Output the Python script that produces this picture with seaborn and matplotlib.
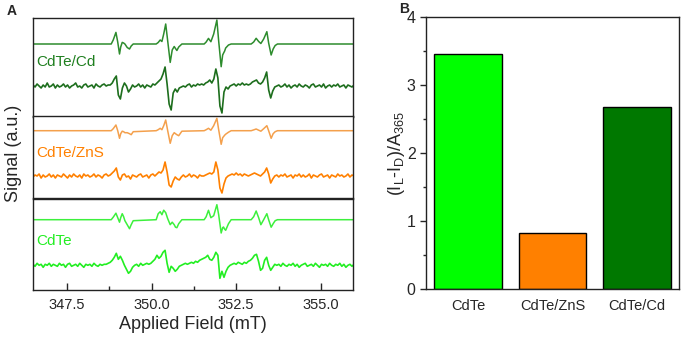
import numpy as np
import pandas as pd
import matplotlib
matplotlib.use("Agg")
import matplotlib.pyplot as plt
import seaborn as sns
from matplotlib.ticker import MultipleLocator

# ---------------- data ----------------
# Panel A: EPR spectra (field in mT, signal in arbitrary units)
sim_field = [346.5,
             348.81, 348.869, 348.949, 349.002, 349.055, 349.09, 349.135, 349.176, 349.214, 349.282, 349.35, 349.40, 349.459,
             350.138, 350.197, 350.256, 350.307, 350.36, 350.419, 350.478, 350.552, 350.611, 350.67, 350.708, 350.749, 350.803, 350.897,
             351.555, 351.614, 351.682, 351.753, 351.836, 351.93, 351.983, 352.057, 352.101, 352.125, 352.16, 352.19, 352.273, 352.352,
             352.943, 353.017, 353.09, 353.164, 353.229, 353.312, 353.406, 353.459, 353.533, 353.592, 353.651, 353.719,
             355.95]
cd_sim = [0,
          0, 4, 11.6, 2, -10, -3, 1.6, 1, 0, -3.5, -5, -2, 0,
          0, 1.5, 4, 2.5, 10, 20, 3, -18.4, -6, -2.5, -4.5, -6.5, -3, 0,
          0, 2, 5.6, 2.3, 10, 24, 3, -22.7, -11, -9.3, -7, -4, -1, 0,
          0, 2, 5.7, 2.5, 0.5, 5, 12.3, 1, -11, -5, -1.5, 0,
          0]
zns_sim = [0,
           0, 2, 5.7, 0, -7.6, -3, -0.5, -1, -2, -2, -3, -4, -1,
           0, 1, 2.4, 1, 5, 10.7, 0, -12.6, -5, -2, -3, -4, -5, -0.5,
           0, 1, 2.4, 0.5, 5, 12.4, 1, -13.6, -7, -6, -4.5, -3.5, -1.5, 0,
           0, 0.8, 1.7, 0.5, -0.5, 2, 5, 0, -7.6, -3, -1, 0,
           0]
cdte_sim = [0,
            0, 2.5, 6.5, 2, -2.5, 2, 6, 3, -1, -5, -9, -5, -1,
            0, 6, 8, 5, 9.5, 7, 1, -5, -2.5, -5, -7.5, -8, -4, 0,
            0, 3, 9.4, 2, 4, 15, 5, -13.3, -8, -7.3, -9.5, -10.6, -4, 0,
            0, 3, 8.7, 2, -5, 0, 6, 0, -7.5, -4, -1, 0,
            0]

# measured spectra, sampled on an even field grid 346.50 ... 355.98 mT
field_start, field_stop = 346.50, 355.98
cd_raw = [1, -1, 2, 0, -2, 1, -1, 3, -1, 0, 2, -2, 1, -1, 0, 2, -1, 1, -2, 0,
          1, 3, -1, 0, -2, 1, 2, -1, 0, 1, -2, 2, 0, -1, 1, 2, 0, 1,
          1, 3, 7, 10, -9, -13, -2, 3, 0, -6, -3, 1, -1,
          0, 2, -1, 1, -2, 1, 0, -1, 2, 1,
          3, 5, 7, 12, 19, 2, -18, -24, -7, -3, -6, -2, -1,
          0, -1, 1, 2, -1, 1, 0, 2, 1, 2,
          1, 3, 4, 6, 3, 7, 17, 8, -20, -27, -6, -1, -3, 0,
          1, 2, 0, 2, 1, 3, 1, 2, 1,
          2, 4, 5, 6, 3, 2, 4, 8, 14, -4, -12, -5, -1, 0,
          1, -1, 0, 2, -1, 1, -2, 0, 1, -1, 2, 0, -1, 1, 0, -2, 1, 2, -1, 0,
          1, -1, 2, -2, 0, 1, -1, 1, 0, 2, -1, 0, 1, -2, 1, 0, -1, 1]
zns_raw = [-1, 1, 0, 2, -2, 1, -1, 0, 2, -1, 1, -2, 1, 0, -1, 2, 0, -2, 1, -1,
           2, 0, -1, 1, -2, 2, 0, 1, -1, 0, 2, -1, 1, 0, -2, 1, 2, 0,
           1, 3, 5, 8, -1, -4, 1, 2, -1, 0, -3, 1, 0,
           -1, 1, 2, -1, 0, 1, -2, 1, 2, 0,
           2, 4, 3, 6, 14, 4, -9, -11, -5, -1, -3, -4, -1,
           1, -1, 0, 2, -1, 1, 0, -2, 1, 0,
           0, 1, 2, 3, 2, 4, 14, 6, -12, -17, -8, -2, 0, 1,
           2, 1, 3, 1, 2, 0, 2, 1, 0,
           1, 2, 3, 2, 1, 0, 2, 4, 8, 2, -7, -3, 0, 1,
           -1, 1, 0, 2, -1, 0, 1, -2, 1, 0, 2, -1, 1, -1, 0, 2, -2, 1, 0, -1,
           1, 2, -1, 0, 1, -2, 1, 0, -1, 2, 0, 1, -1, 0, 2, -1, 1, 0]
cdte_raw = [1, -1, 2, 0, 1, -2, 1, 0, 2, -1, 1, 0, -1, 2, 0, 1, -2, 1, 2, -1,
            0, 1, -1, 2, 0, -2, 1, 0, 1, -1, 2, 0, -1, 1, 0, 1,
            1, 2, 3, 5, 8, 12, 6, 9, 5, 0, -4, -8, -6, -2, 0,
            1, -1, 2, 0, 1, 2, 1,
            2, 4, 6, 10, 7, 9, 13, 15, 2, -7, -1, -3, -6, -4, -1, 0,
            1, 2, 1,
            2, 3, 2, 4, 3, 5, 6, 7, 8, 10, 6, 5, 8, 13, 10, -13, -6, -12, -6, -2, 0,
            1, 2, 1, 3, 2,
            1, 3, 2, 4, 5, 7, 10, 11, 4, -5, -3, 5, 8, 0, -5, -2, 1, 0,
            1, -1, 2, 0, -1, 1, 0, 2, -1, 1, -2, 0, 1, 2, -1, 0, 1, -1, 2, 0,
            -2, 1, 0, 1, -1, 2, 0, -1, 1, 0, 2, -1, 1, -2, 0, 1, -1, 1]

sample_labels = ["CdTe/Cd", "CdTe/ZnS", "CdTe"]
field_ticks = [347.5, 350.0, 352.5, 355.0]

# Panel B
samples = ["CdTe", "CdTe/ZnS", "CdTe/Cd"]
ratio_values = [3.46, 0.82, 2.67]

# ---------------- style ----------------
sns.set_style("ticks")
plt.rcParams["font.family"] = ["Liberation Sans", "DejaVu Sans"]
plt.rcParams["mathtext.fontset"] = "custom"
plt.rcParams["mathtext.rm"] = "Liberation Sans"
plt.rcParams["mathtext.it"] = "Liberation Sans:italic"

W, H = 686, 342
fig = plt.figure(figsize=(W / 100, H / 100), dpi=100)

def fx(px):
    return px / W

def fy(py):
    return 1 - py / H

# ---------------- panel A ----------------
sub_specs = [
    # top px, bottom px, sim offset, raw offset, label y, sim colour, raw colour, label colour
    (17.5, 116.5, 72.5, 30.5, 54.5, "#2d8c2d", "#1d6e1d", "#1f7f1f"),
    (116.5, 198.5, 67.8, 22.5, 45.5, "#f4a04c", "#ff8000", "#ff8000"),
    (198.5, 289.5, 69.8, 24.2, 48.5, "#3cf03c", "#22ee22", "#22ee22"),
]
sims = [cd_sim, zns_sim, cdte_sim]
raws = [cd_raw, zns_raw, cdte_raw]

for k, (top, bot, soff, roff, ly, csim, craw, clab) in enumerate(sub_specs):
    ax = fig.add_axes([fx(33), fy(bot), fx(353) - fx(33), (bot - top) / H])
    sim_df = pd.DataFrame({"field": sim_field, "signal": np.array(sims[k]) + soff})
    rf = np.linspace(field_start, field_stop, len(raws[k]))
    raw_df = pd.DataFrame({"field": rf, "signal": np.array(raws[k]) + roff})
    sns.lineplot(data=sim_df, x="field", y="signal", ax=ax, color=csim,
                 linewidth=1.1, estimator=None, sort=False)
    sns.lineplot(data=raw_df, x="field", y="signal", ax=ax, color=craw,
                 linewidth=1.2, estimator=None, sort=False)
    ax.set_xlim(346.5, 355.95)
    ax.set_ylim(0, bot - top)
    ax.set_xlabel("")
    ax.set_ylabel("")
    ax.set_yticks([])
    ax.text(346.6, ly, sample_labels[k], color=clab, fontsize=11, va="center", ha="left")
    for s in ax.spines.values():
        s.set_linewidth(1.0)
        s.set_color("#222222")
    if k < 2:
        ax.set_xticks([])
    else:
        ax.set_xticks(field_ticks)
        ax.set_xticklabels([f"{t:.1f}" for t in field_ticks])
        ax.xaxis.set_minor_locator(MultipleLocator(1.25))
        ax.tick_params(axis="x", which="major", direction="in", length=5,
                       width=1.0, labelsize=10.5, pad=6)
        ax.tick_params(axis="x", which="minor", direction="in", length=3, width=1.0)
        ax.set_xlabel("Applied Field (mT)", fontsize=13, labelpad=3)

fig.text(fx(14), fy(153.5), "Signal (a.u.)", rotation=90, fontsize=13,
         ha="center", va="center")
fig.text(fx(7), fy(11), "A", fontsize=10, fontweight="bold", ha="left", va="center")

# ---------------- panel B ----------------
ax2 = fig.add_axes([fx(426), fy(289), fx(679) - fx(426), (289 - 17) / H])
bar_df = pd.DataFrame({"sample": samples, "value": ratio_values})
sns.barplot(data=bar_df, x="sample", y="value", hue="sample",
            palette=["#00ff00", "#ff8000", "#007800"], legend=False, saturation=1,
            edgecolor="black", linewidth=1.0, width=0.8, ax=ax2)
ax2.set_xlim(-0.5, 2.5)
ax2.set_ylim(0, 4)
ax2.yaxis.set_major_locator(MultipleLocator(1))
ax2.yaxis.set_minor_locator(MultipleLocator(0.5))
ax2.tick_params(axis="y", which="major", direction="out", length=4, width=1.0, labelsize=11.5)
ax2.tick_params(axis="y", which="minor", direction="out", length=2, width=1.0)
ax2.tick_params(axis="x", length=0, labelsize=10.5, pad=7)
ax2.set_xlabel("")
ax2.set_ylabel("")
for s in ax2.spines.values():
    s.set_visible(True)
    s.set_linewidth(1.0)
    s.set_color("#222222")
fig.text(fx(396), fy(153), r"(I$_{\rm L}$-I$_{\rm D}$)/A$_{365}$", rotation=90,
         fontsize=13, ha="center", va="center")
fig.text(fx(399), fy(9), "B", fontsize=10, fontweight="bold", ha="left", va="center")

fig.savefig("out.png", dpi=100)
